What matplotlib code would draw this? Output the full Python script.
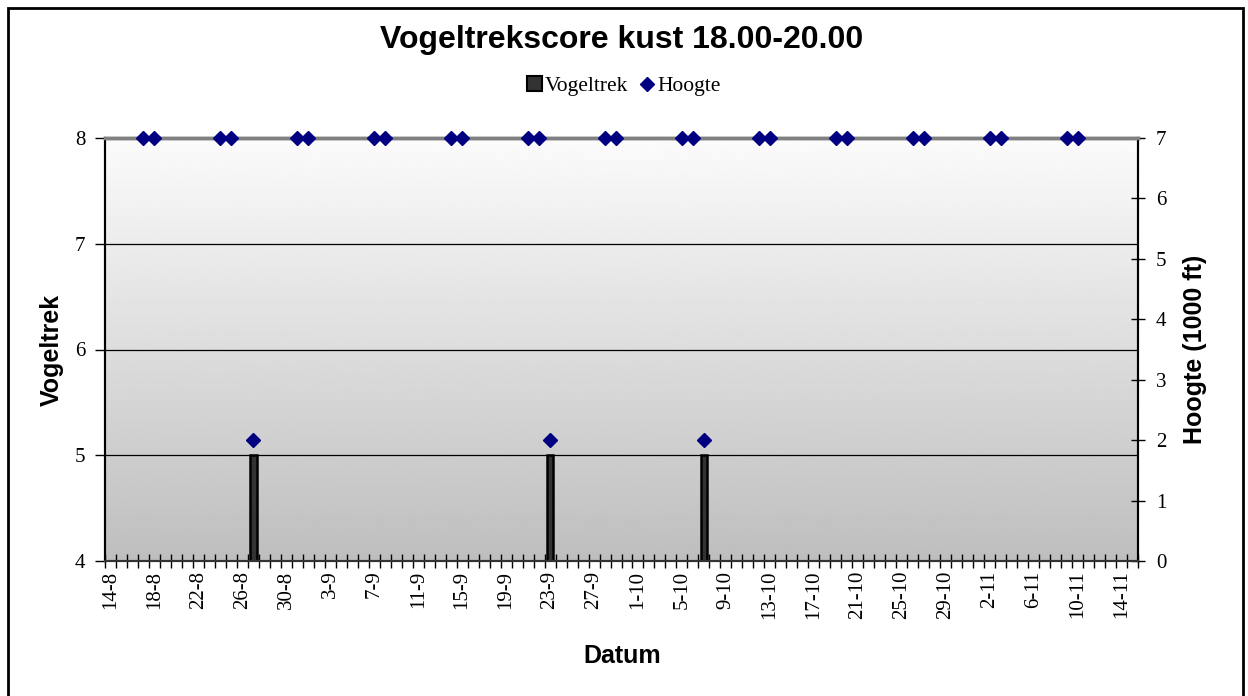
import datetime as dt
import numpy as np
import matplotlib
matplotlib.use('Agg')
import matplotlib.pyplot as plt
import matplotlib.dates as mdates
from matplotlib.patches import Patch, Rectangle
from matplotlib.lines import Line2D

YEAR = 2007

# daily category axis from 14-8 to 15-11
first_day = dt.date(YEAR, 8, 14)
last_day = dt.date(YEAR, 11, 15)

# Vogeltrek score (left axis)
trek_dates = ['27-8', '23-9', '7-10']
trek_values = [5, 5, 5]

# Hoogte in 1000 ft (right axis)
hoogte_dates = ['17-8', '18-8', '24-8', '25-8', '27-8', '31-8', '1-9', '7-9', '8-9',
                '14-9', '15-9', '21-9', '22-9', '23-9', '28-9', '29-9', '5-10', '6-10',
                '7-10', '12-10', '13-10', '19-10', '20-10', '26-10', '27-10', '2-11',
                '3-11', '9-11', '10-11']
hoogte_values = [7, 7, 7, 7, 2, 7, 7, 7, 7,
                 7, 7, 7, 7, 2, 7, 7, 7, 7,
                 2, 7, 7, 7, 7, 7, 7, 7,
                 7, 7, 7]


def to_num(label):
    d, m = label.split('-')
    return mdates.date2num(dt.date(YEAR, int(m), int(d)))


def day_label(x, pos=None):
    d = mdates.num2date(x)
    return f'{d.day}-{d.month}'


serif = 'Liberation Serif'
sans = 'Liberation Sans'

fig = plt.figure(figsize=(12.48, 6.96), dpi=100)
ax = fig.add_axes([105 / 1248, 1 - 561 / 696, (1138 - 105) / 1248, (561 - 138) / 696])
ax2 = ax.twinx()

x0 = mdates.date2num(first_day) - 0.5
x1 = mdates.date2num(last_day) + 0.5

# gradient background of the plot area
grad = np.linspace(0.985, 0.745, 256).reshape(-1, 1)
ax.imshow(grad, cmap='gray', vmin=0, vmax=1, aspect='auto',
          extent=[x0, x1, 4, 8], origin='upper', zorder=0)

for yv in [5, 6, 7]:
    ax.axhline(yv, color='black', lw=0.9, zorder=1)

ax.bar([to_num(s) for s in trek_dates], [v - 4 for v in trek_values], bottom=4,
       width=0.6, color='#333333', edgecolor='black', lw=1.8, zorder=2)

ax2.plot([to_num(s) for s in hoogte_dates], hoogte_values, ls='none', marker='D',
         ms=7.5, color='#000080', clip_on=False, zorder=3)

ax.set_xlim(x0, x1)
ax.set_ylim(4, 8)
ax2.set_ylim(0, 7)

ax.set_yticks([4, 5, 6, 7, 8])
ax2.set_yticks(range(8))

label_days = np.arange(mdates.date2num(first_day), mdates.date2num(last_day), 4)
ax.set_xticks(label_days)
ax.xaxis.set_major_formatter(plt.FuncFormatter(day_label))
ax.set_xticks(np.arange(x0, x1 + 0.01, 1.0), minor=True)
ax.tick_params(axis='x', which='major', length=0, pad=7, labelrotation=90)
ax.tick_params(axis='x', which='minor', direction='inout', length=10, width=1, color='black')
ax.tick_params(axis='y', which='major', direction='out', length=7, width=1, pad=7)
ax2.tick_params(axis='y', direction='inout', length=10, width=1, pad=8)

for lab in ax.get_xticklabels() + ax.get_yticklabels() + ax2.get_yticklabels():
    lab.set_fontfamily(serif)
    lab.set_fontsize(15)

for a in (ax, ax2):
    a.spines['top'].set_color('#808080')
    a.spines['top'].set_linewidth(2.5)
    a.spines['left'].set_color('black')
    a.spines['right'].set_color('black')
    a.spines['bottom'].set_color('#333333')
    a.spines['left'].set_linewidth(1.5)
    a.spines['right'].set_linewidth(1.5)
    a.spines['bottom'].set_linewidth(1.5)

ax.set_ylabel('Vogeltrek', fontfamily=sans, fontweight='bold', fontsize=18, labelpad=8)
ax2.set_ylabel('Hoogte (1000 ft)', fontfamily=sans, fontweight='bold', fontsize=18, labelpad=12)
fig.text(622 / 1248, 1 - 656 / 696, 'Datum', fontfamily=sans, fontweight='bold',
         fontsize=18, ha='center', va='center')

fig.text(622 / 1248, 1 - 40 / 696, 'Vogeltrekscore kust 18.00-20.00', fontfamily=sans,
         fontweight='bold', fontsize=23, ha='center', va='center')

handles = [Patch(facecolor='#333333', edgecolor='black', lw=1.5),
           Line2D([], [], ls='none', marker='D', ms=7.5, color='#000080')]
fig.legend(handles, ['Vogeltrek', 'Hoogte'], loc='center', bbox_to_anchor=(624 / 1248, 1 - 86 / 696),
           ncol=2, frameon=False, prop={'family': serif, 'size': 15.5},
           handlelength=0.7, handletextpad=0.15, columnspacing=0.5)

fig.patches.append(Rectangle((7.5 / 1248, -0.05), (1243 - 7.5) / 1248, 1.05 - 8.5 / 696,
                             transform=fig.transFigure, fill=False, edgecolor='black', lw=2))

fig.savefig('out.png', dpi=100)
